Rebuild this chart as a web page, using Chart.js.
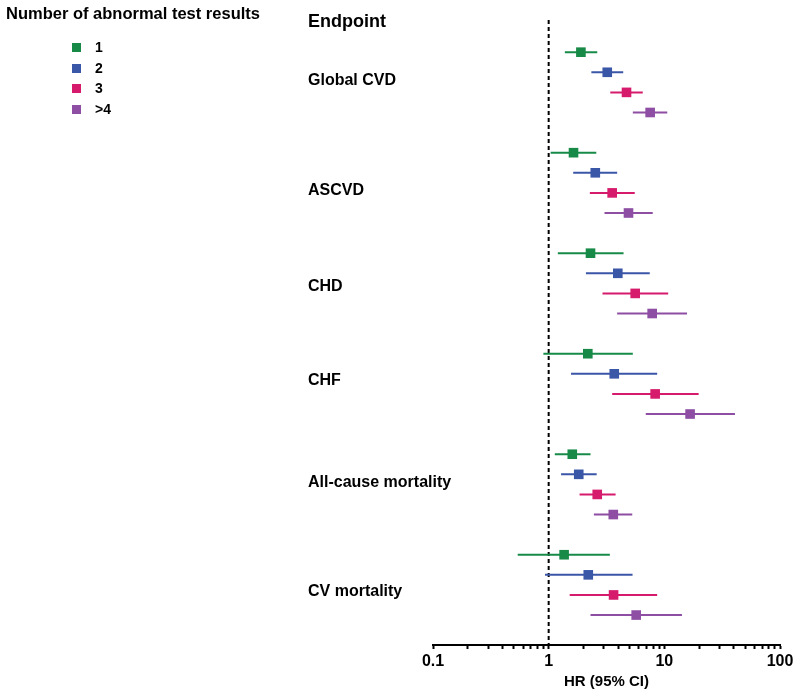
<!DOCTYPE html>
<html>
<head>
<meta charset="utf-8">
<script src="https://cdn.jsdelivr.net/npm/chart.js@4"></script>
<style>
  html, body { margin: 0; padding: 0; background: #fff; }
  #wrap { position: relative; width: 800px; height: 696px; }
  #legend { position: absolute; left: 0; top: 0; font-family: 'Liberation Sans', Arial, sans-serif; font-weight: bold; color: #000; }
  #legend .title { position: absolute; left: 6px; top: 4px; font-size: 16.5px; white-space: nowrap; }
  #legend .item { position: absolute; left: 72px; height: 20px; display: flex; align-items: center; font-size: 14px; white-space: nowrap; }
  #legend .sw { width: 9px; height: 9px; margin-right: 14px; }
</style>
</head>
<body>
<div id="wrap">
  <canvas id="chart" width="800" height="696"></canvas>
  <div id="legend"></div>
</div>
<script>
  // endpoints and groups
  const endpoints = ['Global CVD', 'ASCVD', 'CHD', 'CHF', 'All-cause mortality', 'CV mortality'];
  const groups = ['1', '2', '3', '>4'];
  const colors = ['#178a47', '#3a56a6', '#d61a6c', '#8d4ea3'];

  // hazard ratios with 95% CI, one array per group, in endpoint order
  const hr1 = [1.90, 1.64, 2.30, 2.18, 1.60, 1.36];
  const lo1 = [1.38, 1.04, 1.20, 0.90, 1.13, 0.54];
  const hi1 = [2.63, 2.58, 4.44, 5.34, 2.30, 3.38];

  const hr2 = [3.21, 2.53, 3.96, 3.69, 1.82, 2.20];
  const lo2 = [2.34, 1.63, 2.10, 1.56, 1.28, 0.93];
  const hi2 = [4.41, 3.91, 7.48, 8.67, 2.60, 5.31];

  const hr3 = [4.71, 3.54, 5.60, 8.33, 2.63, 3.64];
  const lo3 = [3.41, 2.27, 2.92, 3.54, 1.85, 1.52];
  const hi3 = [6.51, 5.55, 10.8, 19.8, 3.79, 8.67];

  const hr4 = [7.54, 4.90, 7.85, 16.7, 3.62, 5.71];
  const lo4 = [5.34, 3.04, 3.91, 6.91, 2.46, 2.30];
  const hi4 = [10.6, 7.94, 15.7, 40.8, 5.28, 14.2];

  // x axis labels (log scale)
  const xMajor = [0.1, 1, 10, 100];

  const hrs = [hr1, hr2, hr3, hr4];
  const lows = [lo1, lo2, lo3, lo4];
  const highs = [hi1, hi2, hi3, hi4];

  // rows: each endpoint takes 4 rows plus one blank row
  const rowOf = (e, g) => e * 5 + g;
  const labelRows = [1.43, 6.88, 11.66, 16.34, 21.43, 26.85];
  const headerRow = -1.51;

  const datasets = [];

  groups.forEach((g, gi) => {
    datasets.push({
      label: g,
      data: endpoints.map((_, ei) => ({ x: hrs[gi][ei], y: rowOf(ei, gi) })),
      pointStyle: 'rect',
      pointRadius: 6.8,
      backgroundColor: colors[gi],
      borderWidth: 0,
      order: 0
    });
  });

  groups.forEach((g, gi) => {
    endpoints.forEach((_, ei) => {
      datasets.push({
        label: `${g} CI`,
        data: [
          { x: lows[gi][ei], y: rowOf(ei, gi) },
          { x: highs[gi][ei], y: rowOf(ei, gi) }
        ],
        showLine: true,
        borderColor: colors[gi],
        borderWidth: 2,
        pointRadius: 0,
        order: 1
      });
    });
  });

  // reference line at HR = 1
  datasets.push({
    label: 'ref',
    data: [{ x: 1, y: -1.6 }, { x: 1, y: 29.5 }],
    showLine: true,
    borderColor: '#000',
    borderWidth: 2,
    borderDash: [4, 3],
    pointRadius: 0,
    order: 2
  });

  Chart.defaults.font.family = "'Liberation Sans', Arial, sans-serif";
  Chart.defaults.font.weight = 'bold';
  Chart.defaults.color = '#000';

  const xTicks = [];
  [0.1, 1, 10].forEach((d) => {
    for (let k = 1; k <= 9; k += 1) xTicks.push(d * k);
  });
  xTicks.push(100);
  const isMajor = (v) => xMajor.some((m) => Math.abs(Math.log10(v) - Math.log10(m)) < 1e-9);

  new Chart(document.getElementById('chart'), {
    type: 'scatter',
    data: { datasets },
    options: {
      responsive: false,
      animation: false,
      layout: { padding: { left: 308, right: 20, top: 18, bottom: 0 } },
      plugins: { legend: { display: false }, tooltip: { enabled: false } },
      scales: {
        x: {
          type: 'logarithmic',
          min: 0.1,
          max: 100,
          afterBuildTicks: (scale) => {
            scale.ticks = xTicks.map((v) => ({ value: v }));
          },
          afterFit: (scale) => { scale.height = 51; },
          ticks: {
            autoSkip: false,
            maxRotation: 0,
            padding: 3,
            font: { size: 16, weight: 'bold' },
            callback: (value) => (isMajor(value) ? String(value) : '')
          },
          grid: { drawOnChartArea: false, drawTicks: true, tickLength: 4, tickWidth: 2, tickColor: '#000' },
          border: { display: true, color: '#000', width: 2 },
          title: {
            display: true,
            text: 'HR (95% CI)',
            font: { size: 15, weight: 'bold' },
            padding: { top: 0, bottom: 5 }
          }
        },
        y: {
          type: 'linear',
          reverse: true,
          min: -1.7,
          max: 29.49,
          afterBuildTicks: (scale) => {
            scale.ticks = [headerRow, ...labelRows].map((v) => ({ value: v }));
          },
          afterFit: (scale) => { scale.width = 125; },
          ticks: {
            autoSkip: false,
            mirror: true,
            crossAlign: 'near',
            padding: -125,
            font: (ctx) => (ctx.index === 0 ? { size: 18, weight: 'bold' } : { size: 16, weight: 'bold' }),
            callback: (value, index) => (index === 0 ? 'Endpoint' : endpoints[index - 1])
          },
          grid: { display: false },
          border: { display: false }
        }
      }
    }
  });

  // legend
  const legend = document.getElementById('legend');
  const title = document.createElement('div');
  title.className = 'title';
  title.textContent = 'Number of abnormal test results';
  legend.appendChild(title);
  const itemTops = [37, 58, 78, 99];
  groups.forEach((g, gi) => {
    const item = document.createElement('div');
    item.className = 'item';
    item.style.top = `${itemTops[gi]}px`;
    const sw = document.createElement('span');
    sw.className = 'sw';
    sw.style.background = colors[gi];
    const text = document.createElement('span');
    text.textContent = g;
    item.append(sw, text);
    legend.appendChild(item);
  });
</script>
</body>
</html>
